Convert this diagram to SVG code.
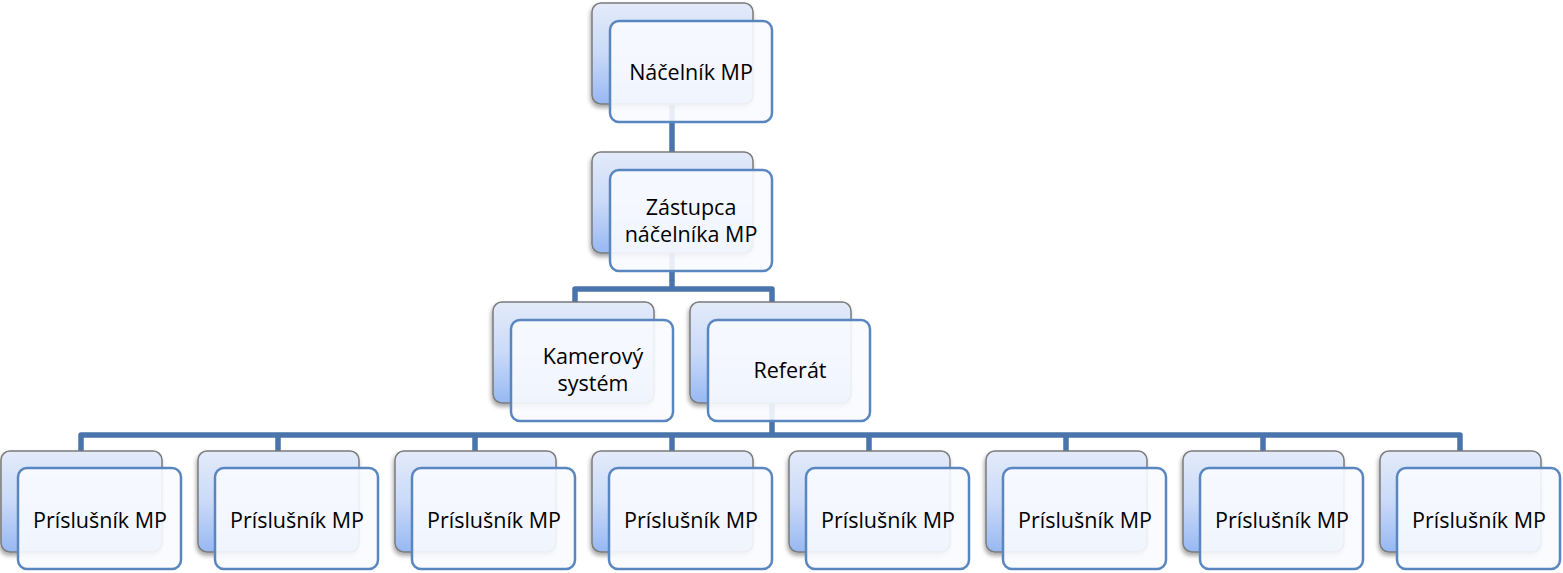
<svg xmlns="http://www.w3.org/2000/svg" width="1563" height="573" viewBox="0 0 1563 573">
<defs>
<linearGradient id="bg" x1="0" y1="0" x2="0" y2="1">
<stop offset="0" stop-color="#e3ebfa"/>
<stop offset="0.5" stop-color="#cadaf8"/>
<stop offset="1" stop-color="#97b8f3"/>
</linearGradient>
<filter id="sh" x="-10%" y="-10%" width="130%" height="130%">
<feDropShadow dx="-1" dy="3" stdDeviation="2" flood-color="#000" flood-opacity="0.35"/>
</filter>
</defs>
<style>
.back{fill:url(#bg);stroke:#7b7b7b;stroke-width:1.5;filter:url(#sh)}
.front{fill:#fafbff;fill-opacity:0.9;stroke:#5a86bf;stroke-width:2.5}
.t{font-family:"Open Sans","Liberation Sans",sans-serif;font-size:21.5px;fill:#000;text-anchor:middle}
.c{fill:none;stroke:#4a74ac;stroke-width:5.5;stroke-linejoin:round}
</style>
<g id="connectors">
<path class="c" d="M672 103 V152"/>
<path class="c" d="M672 253 V289 M575 302 V289 H772 V302"/>
<path class="c" d="M772 403 V435"/>
<path class="c" d="M81 451 V435 H1460 V451 M278 435 V451 M475 435 V451 M672 435 V451 M869 435 V451 M1066 435 V451 M1263 435 V451"/>
</g>
<g id="n1">
<rect class="back" x="592" y="3" width="161" height="101" rx="9"/>
<rect class="front" x="610" y="21" width="162" height="101" rx="9"/>
<text class="t" x="691" y="80">Náčelník MP</text>
</g>
<g id="n2">
<rect class="back" x="592" y="152" width="161" height="101" rx="9"/>
<rect class="front" x="610" y="170" width="162" height="101" rx="9"/>
<text class="t" x="691" y="215">Zástupca</text>
<text class="t" x="691" y="242">náčelníka MP</text>
</g>
<g id="n3">
<rect class="back" x="493" y="302" width="161" height="101" rx="9"/>
<rect class="front" x="511" y="320" width="162" height="101" rx="9"/>
<text class="t" x="593" y="364">Kamerový</text>
<text class="t" x="593" y="391">systém</text>
</g>
<g id="n4">
<rect class="back" x="690" y="302" width="161" height="101" rx="9"/>
<rect class="front" x="708" y="320" width="162" height="101" rx="9"/>
<text class="t" x="790" y="378">Referát</text>
</g>
<g id="p1"><rect class="back" x="1" y="451" width="161" height="101" rx="9"/><rect class="front" x="18" y="468" width="163" height="101" rx="9"/><text class="t" x="100" y="528">Príslušník MP</text></g>
<g id="p2"><rect class="back" x="198" y="451" width="161" height="101" rx="9"/><rect class="front" x="215" y="468" width="163" height="101" rx="9"/><text class="t" x="297" y="528">Príslušník MP</text></g>
<g id="p3"><rect class="back" x="395" y="451" width="161" height="101" rx="9"/><rect class="front" x="412" y="468" width="163" height="101" rx="9"/><text class="t" x="494" y="528">Príslušník MP</text></g>
<g id="p4"><rect class="back" x="592" y="451" width="161" height="101" rx="9"/><rect class="front" x="609" y="468" width="163" height="101" rx="9"/><text class="t" x="691" y="528">Príslušník MP</text></g>
<g id="p5"><rect class="back" x="789" y="451" width="161" height="101" rx="9"/><rect class="front" x="806" y="468" width="163" height="101" rx="9"/><text class="t" x="888" y="528">Príslušník MP</text></g>
<g id="p6"><rect class="back" x="986" y="451" width="161" height="101" rx="9"/><rect class="front" x="1003" y="468" width="163" height="101" rx="9"/><text class="t" x="1085" y="528">Príslušník MP</text></g>
<g id="p7"><rect class="back" x="1183" y="451" width="161" height="101" rx="9"/><rect class="front" x="1200" y="468" width="163" height="101" rx="9"/><text class="t" x="1282" y="528">Príslušník MP</text></g>
<g id="p8"><rect class="back" x="1380" y="451" width="161" height="101" rx="9"/><rect class="front" x="1397" y="468" width="163" height="101" rx="9"/><text class="t" x="1479" y="528">Príslušník MP</text></g>
</svg>
